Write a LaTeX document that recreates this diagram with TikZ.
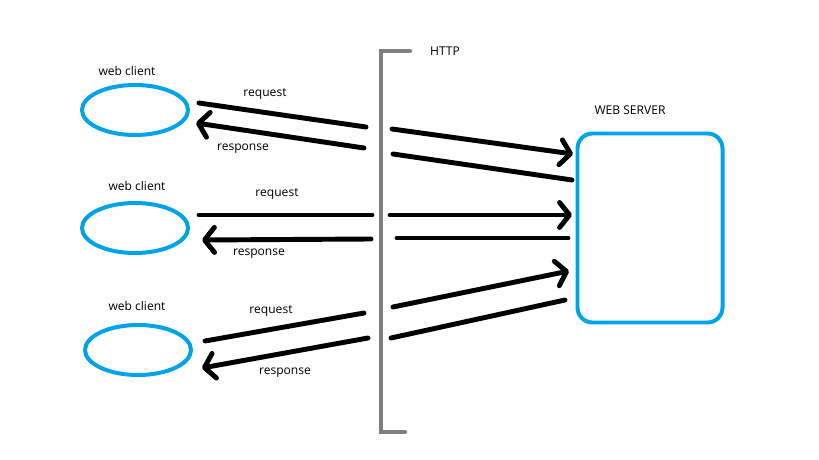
\documentclass[tikz,border=0pt]{standalone}
\usepackage{fontspec}
\setmainfont{Open Sans}
\usetikzlibrary{arrows.meta,shapes.geometric}
\definecolor{paintblue}{RGB}{0,162,232}
\definecolor{paintgray}{RGB}{127,127,127}
\tikzset{
  client/.style={ellipse, draw=paintblue, line width=3.4pt, minimum width=3.18cm, minimum height=1.5cm, inner sep=0pt},
  server/.style={rectangle, draw=paintblue, line width=3.4pt, rounded corners=0.45cm, minimum width=4.35cm, minimum height=5.67cm, inner sep=0pt},
  msg/.style={line width=4.2pt, line cap=round},
  msgto/.style={msg, -{Straight Barb[length=3mm,width=7.5mm,round]}},
  lbl/.style={font=\fontsize{10.3}{12}\selectfont, inner sep=0pt},
}
\begin{document}
\begin{tikzpicture}[x=0.03cm, y=-0.03cm]
        \useasboundingbox (0,0) rectangle (819,460);

        % clients and server
        \node[client] (c1) at (135,110) {};
        \node[client] (c2) at (135,228) {};
        \node[client] (c3) at (138,350) {};
        \node[server] (srv) at (650,228) {};

        \node[lbl] (c1l) at (127,71) {web client};
        \node[lbl] (c2l) at (137,186) {web client};
        \node[lbl] (c3l) at (137,306) {web client};
        \node[lbl] (srvl) at (630,110) {WEB SERVER};

        % the HTTP bar
        \coordinate (h1) at (410,51);
        \coordinate (h2) at (381,51);
        \coordinate (h3) at (381,432);
        \coordinate (h4) at (405,432);
        \draw[paintgray, line width=3.8pt, line cap=round] (h1) -- (h2) -- (h3) -- (h4);
        \node[lbl] (http) at (445,51) {HTTP};

        % first client
        \coordinate (rq1a) at (199,103);
        \coordinate (rq1b) at (366,127);
        \coordinate (rq1c) at (392,129);
        \coordinate (rq1d) at (573,154);
        \coordinate (rs1a) at (572,180);
        \coordinate (rs1b) at (393,154);
        \coordinate (rs1c) at (364,148);
        \coordinate (rs1d) at (196,123);
        \draw[msg] (rq1a) -- (rq1b);
        \draw[msgto] (rq1c) -- (rq1d);
        \draw[msg] (rs1a) -- (rs1b);
        \draw[msgto] (rs1c) -- (rs1d);
        \node[lbl] (rq1) at (265,94) {request};
        \node[lbl] (rs1) at (243,149) {response};

        % second client
        \coordinate (rq2a) at (199,215);
        \coordinate (rq2b) at (372,215);
        \coordinate (rq2c) at (390,215);
        \coordinate (rq2d) at (572,215);
        \coordinate (rs2a) at (568,238);
        \coordinate (rs2b) at (397,238);
        \coordinate (rs2c) at (371,239);
        \coordinate (rs2d) at (202,240);
        \draw[msg] (rq2a) -- (rq2b);
        \draw[msgto] (rq2c) -- (rq2d);
        \draw[msg] (rs2a) -- (rs2b);
        \draw[msgto] (rs2c) -- (rs2d);
        \node[lbl] (rq2) at (277,194) {request};
        \node[lbl] (rs2) at (259,254) {response};

        % third client
        \coordinate (rq3a) at (205,341);
        \coordinate (rq3b) at (364,313);
        \coordinate (rq3c) at (393,307);
        \coordinate (rq3d) at (569,271);
        \coordinate (rs3a) at (565,300);
        \coordinate (rs3b) at (391,338);
        \coordinate (rs3c) at (368,338);
        \coordinate (rs3d) at (202,368);
        \draw[msg] (rq3a) -- (rq3b);
        \draw[msgto] (rq3c) -- (rq3d);
        \draw[msg] (rs3a) -- (rs3b);
        \draw[msgto] (rs3c) -- (rs3d);
        \node[lbl] (rq3) at (271,311) {request};
        \node[lbl] (rs3) at (285,373) {response};

      \end{tikzpicture}
\end{document}
